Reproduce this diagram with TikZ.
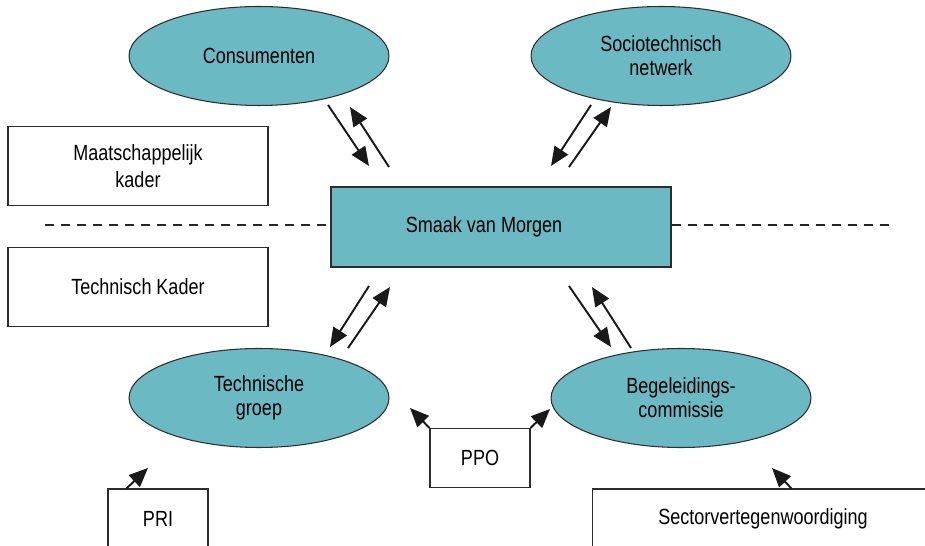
\documentclass[tikz,border=0pt]{standalone}
\usepackage{fontspec}
\setmainfont[FakeStretch=0.82]{Liberation Sans}
\usepackage{xcolor}
\usetikzlibrary{arrows.meta,shapes.geometric}
\definecolor{smvteal}{RGB}{107,185,194}
\definecolor{rand}{RGB}{45,45,45}

\begin{document}
\begin{tikzpicture}[
				x=0.02cm,y=-0.02cm,
				font=\fontsize{12.5}{13.6}\selectfont,
				actor/.style={draw=rand,line width=0.6pt,ellipse,fill=smvteal,minimum width=5.2cm,minimum height=1.98cm,align=center,inner sep=0pt},
				kader/.style={draw=rand,line width=0.6pt,rectangle,minimum width=5.2cm,minimum height=1.58cm,align=center},
				partij/.style={draw=rand,line width=0.6pt,rectangle,minimum height=1.2cm},
				pijl/.style={-{Triangle[length=0.38cm,width=0.32cm]},line width=1.1pt,black!90},
				grens/.style={dashed,dash pattern=on 0.19cm off 0.13cm,line width=1.1pt,black!85}
				]
				\useasboundingbox (0,0) rectangle (925,546);
				\clip (0,0) rectangle (925,546);
				
				% Kern
				\node[draw=rand,line width=0.8pt,fill=smvteal,minimum width=6.8cm,minimum height=1.6cm] (smaak) at (501,227) {\hspace*{-0.68cm}Smaak van Morgen};
				
				% Actoren
				\node[actor] (cons) at (259,56) {Consumenten};
				\node[actor] (socio) at (661,56) {Sociotechnisch\\netwerk};
				\node[actor] (techgr) at (259,398) {Technische\\groep};
				\node[actor] (begel) at (681,398) {Begeleidings-\\commissie};
				
				% Kaders
				\node[kader] (maatsch) at (138,166) {Maatschappelijk\\[2pt]kader};
				\node[kader] (technk) at (138,287) {Technisch Kader};
				
				% Partijen onderaan
				\node[partij,minimum width=2cm,minimum height=1.18cm] (ppo) at (480,458) {PPO};
				\node[partij,minimum width=2cm] (pri) at (158,519) {PRI};
				\node[partij,minimum width=6.84cm] (sector) at (763,519) {Sectorvertegenwoordiging};
				
				% Scheidingslijn
				\coordinate (grensL) at (45,225);
				\coordinate (grensR) at (893,225);
				\draw[grens] (grensL) -- (grensL -| smaak.west);
				\draw[grens] (grensR -| smaak.east) -- (grensR);
				
				% Eindpunten van de pijlen
				\coordinate (c1) at (328,105); \coordinate (c2) at (369,166);
				\coordinate (c3) at (389,167); \coordinate (c4) at (350,107);
				\coordinate (s1) at (591,105); \coordinate (s2) at (551,166);
				\coordinate (s3) at (569,167); \coordinate (s4) at (611,107);
				\coordinate (t1) at (369,286); \coordinate (t2) at (330,347);
				\coordinate (t3) at (348,348); \coordinate (t4) at (390,287);
				\coordinate (b1) at (569,286); \coordinate (b2) at (611,347);
				\coordinate (b3) at (631,348); \coordinate (b4) at (592,287);
				\coordinate (priP) at (148,468);
				\coordinate (ppoL) at (410,408);
				\coordinate (ppoR) at (550,409);
				\coordinate (sectP) at (772,468);
				
				% Verbindingen
				\draw[pijl] (c1) -- (c2);
				\draw[pijl] (c3) -- (c4);
				\draw[pijl] (s1) -- (s2);
				\draw[pijl] (s3) -- (s4);
				\draw[pijl] (t1) -- (t2);
				\draw[pijl] (t3) -- (t4);
				\draw[pijl] (b1) -- (b2);
				\draw[pijl] (b3) -- (b4);
				\draw[pijl] ([xshift=0.38cm]pri.north west) -- (priP);
				\draw[pijl] (ppo.north west) -- (ppoL);
				\draw[pijl] (ppo.north east) -- (ppoR);
				\draw[pijl] ([xshift=4.0cm]sector.north west) -- (sectP);
				
\end{tikzpicture}
\end{document}
